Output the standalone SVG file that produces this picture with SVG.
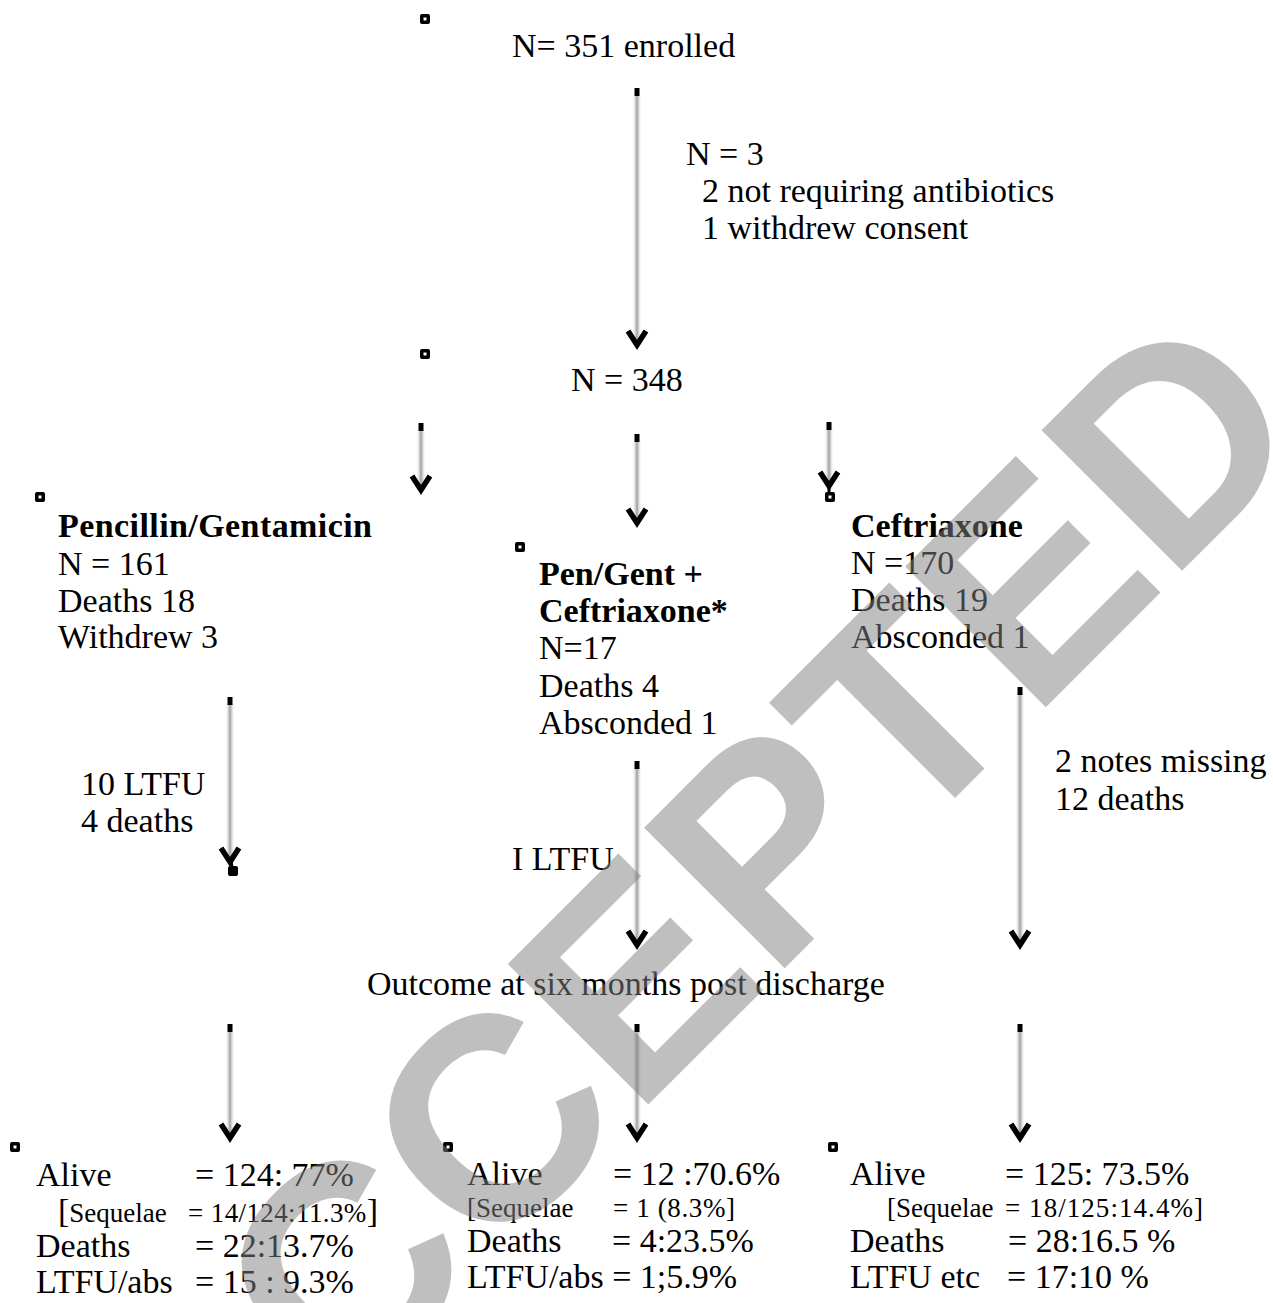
<svg xmlns="http://www.w3.org/2000/svg" width="1273" height="1303" viewBox="0 0 1273 1303">
<defs>
<style>
.t{font-family:"Liberation Serif","Times New Roman",serif;font-size:34px;fill:#000}
.b{font-weight:bold}
.sq{font-size:27px}
.wm{font-family:"Liberation Sans",Arial,sans-serif;font-weight:bold;font-size:289px;fill:#818181;opacity:0.5}
.chev{fill:none;stroke:#000;stroke-width:5.5;stroke-linejoin:miter;stroke-linecap:butt}
.tick{fill:#000}
</style>
<linearGradient id="sh" x1="0" y1="0" x2="1" y2="0">
<stop offset="0" stop-color="#ffffff" stop-opacity="0"/>
<stop offset="0.5" stop-color="#9c9c9c"/>
<stop offset="1" stop-color="#ffffff" stop-opacity="0"/>
</linearGradient>
<g id="bul"><rect x="0" y="0" width="10" height="10" rx="2" fill="#000"/><rect x="3.5" y="3.5" width="3" height="3" fill="#fff"/></g>
</defs>
<rect width="1273" height="1303" fill="#fff"/>

<g id="connectors">
<rect x="632" y="95" width="10" height="247" fill="url(#sh)"/><rect class="tick" x="634.5" y="88" width="5" height="8"/><polyline class="chev" points="628,331 637,345 646,331"/>
<rect x="416" y="430" width="10" height="57" fill="url(#sh)"/><rect class="tick" x="418.5" y="423" width="5" height="8"/><polyline class="chev" points="412,476 421,490 430,476"/>
<rect x="632" y="441" width="10" height="79" fill="url(#sh)"/><rect class="tick" x="634.5" y="434" width="5" height="8"/><polyline class="chev" points="628,509 637,523 646,509"/>
<rect x="824" y="429" width="10" height="55" fill="url(#sh)"/><rect class="tick" x="826.5" y="422" width="5" height="8"/><polyline class="chev" points="820,472 829,486 838,472"/><line x1="829" y1="484" x2="829" y2="494" stroke="#000" stroke-width="3"/>
<rect x="225" y="704" width="10" height="155" fill="url(#sh)"/><rect class="tick" x="227.5" y="697" width="5" height="8"/><polyline class="chev" points="221,848 230,862 239,848"/><line x1="231" y1="860" x2="232" y2="868" stroke="#000" stroke-width="3"/>
<rect x="632" y="768" width="10" height="174" fill="url(#sh)"/><rect class="tick" x="634.5" y="761" width="5" height="8"/><polyline class="chev" points="628,931 637,945 646,931"/>
<rect x="1015" y="694" width="10" height="248" fill="url(#sh)"/><rect class="tick" x="1017.5" y="687" width="5" height="8"/><polyline class="chev" points="1011,931 1020,945 1029,931"/>
<rect x="225" y="1031" width="10" height="104" fill="url(#sh)"/><rect class="tick" x="227.5" y="1024" width="5" height="8"/><polyline class="chev" points="221,1124 230,1138 239,1124"/>
<rect x="632" y="1031" width="10" height="104" fill="url(#sh)"/><rect class="tick" x="634.5" y="1024" width="5" height="8"/><polyline class="chev" points="628,1124 637,1138 646,1124"/>
<rect x="1015" y="1031" width="10" height="104" fill="url(#sh)"/><rect class="tick" x="1017.5" y="1024" width="5" height="8"/><polyline class="chev" points="1011,1124 1020,1138 1029,1124"/>
</g>

<g id="labels">
<text class="t" x="686" y="165">N = 3</text>
<text class="t" x="702" y="202">2 not requiring antibiotics</text>
<text class="t" x="702" y="239">1 withdrew consent</text>
<text class="t" x="81" y="795">10 LTFU</text>
<text class="t" x="81" y="832">4 deaths</text>
<text class="t" x="512" y="870">I LTFU</text>
<text class="t" x="1055" y="772">2 notes missing</text>
<text class="t" x="1055" y="810">12 deaths</text>
</g>

<g id="n-enrolled">
<use href="#bul" x="420" y="14"/>
<text class="t" x="512" y="57">N= 351 enrolled</text>
</g>

<g id="n-348">
<use href="#bul" x="420" y="349"/>
<text class="t" x="571" y="391">N = 348</text>
</g>

<g id="n-pengent">
<use href="#bul" x="35" y="492"/>
<text class="t b" x="58" y="537" textLength="314" lengthAdjust="spacing">Pencillin/Gentamicin</text>
<text class="t" x="58" y="575">N = 161</text>
<text class="t" x="58" y="612">Deaths 18</text>
<text class="t" x="58" y="648">Withdrew 3</text>
</g>

<g id="n-combo">
<use href="#bul" x="515" y="542"/>
<text class="t b" x="539" y="585">Pen/Gent +</text>
<text class="t b" x="539" y="622">Ceftriaxone*</text>
<text class="t" x="539" y="659">N=17</text>
<text class="t" x="539" y="697">Deaths 4</text>
<text class="t" x="539" y="734">Absconded 1</text>
</g>

<g id="n-ceft">
<use href="#bul" x="825" y="492"/>
<text class="t b" x="851" y="537">Ceftriaxone</text>
<text class="t" x="851" y="574">N =170</text>
<text class="t" x="851" y="611">Deaths 19</text>
<text class="t" x="851" y="648">Absconded 1</text>
</g>

<g id="n-outcome">
<rect x="228" y="866" width="10" height="10" rx="2" fill="#000"/>
<text class="t" x="367" y="995">Outcome at six months post discharge</text>
</g>

<g id="n-res-left">
<use href="#bul" x="10" y="1142"/>
<text class="t" x="36" y="1186">Alive</text>
<text class="t" x="195" y="1186">= 124: 77%</text>
<text class="t" x="58" y="1222">[<tspan class="sq">Sequelae</tspan></text>
<text class="t sq" x="188" y="1222" textLength="190" lengthAdjust="spacing">= 14/124:11.3%<tspan font-size="34">]</tspan></text>
<text class="t" x="36" y="1257">Deaths</text>
<text class="t" x="195" y="1257">= 22:13.7%</text>
<text class="t" x="36" y="1293">LTFU/abs</text>
<text class="t" x="195" y="1293">= 15 : 9.3%</text>
</g>

<g id="n-res-mid">
<use href="#bul" x="443" y="1142"/>
<text class="t" x="467" y="1185">Alive</text>
<text class="t" x="613" y="1185">= 12 :70.6%</text>
<text class="t sq" x="467" y="1217">[Sequelae</text>
<text class="t sq" x="613" y="1217" textLength="122" lengthAdjust="spacing">= 1 (8.3%]</text>
<text class="t" x="467" y="1252">Deaths</text>
<text class="t" x="612" y="1252">= 4:23.5%</text>
<text class="t" x="467" y="1288">LTFU/abs = 1;5.9%</text>
</g>

<g id="n-res-right">
<use href="#bul" x="828" y="1142"/>
<text class="t" x="850" y="1185">Alive</text>
<text class="t" x="1005" y="1185">= 125: 73.5%</text>
<text class="t sq" x="887" y="1217">[Sequelae</text>
<text class="t sq" x="1005" y="1217" textLength="198" lengthAdjust="spacing">= 18/125:14.4%]</text>
<text class="t" x="850" y="1252">Deaths</text>
<text class="t" x="1008" y="1252">= 28:16.5 %</text>
<text class="t" x="850" y="1288">LTFU etc</text>
<text class="t" x="1007" y="1288">= 17:10 %</text>
</g>

<g id="watermark">
<text class="wm" transform="translate(192,1561) rotate(-45)">ACCEPTED</text>
</g>
</svg>
